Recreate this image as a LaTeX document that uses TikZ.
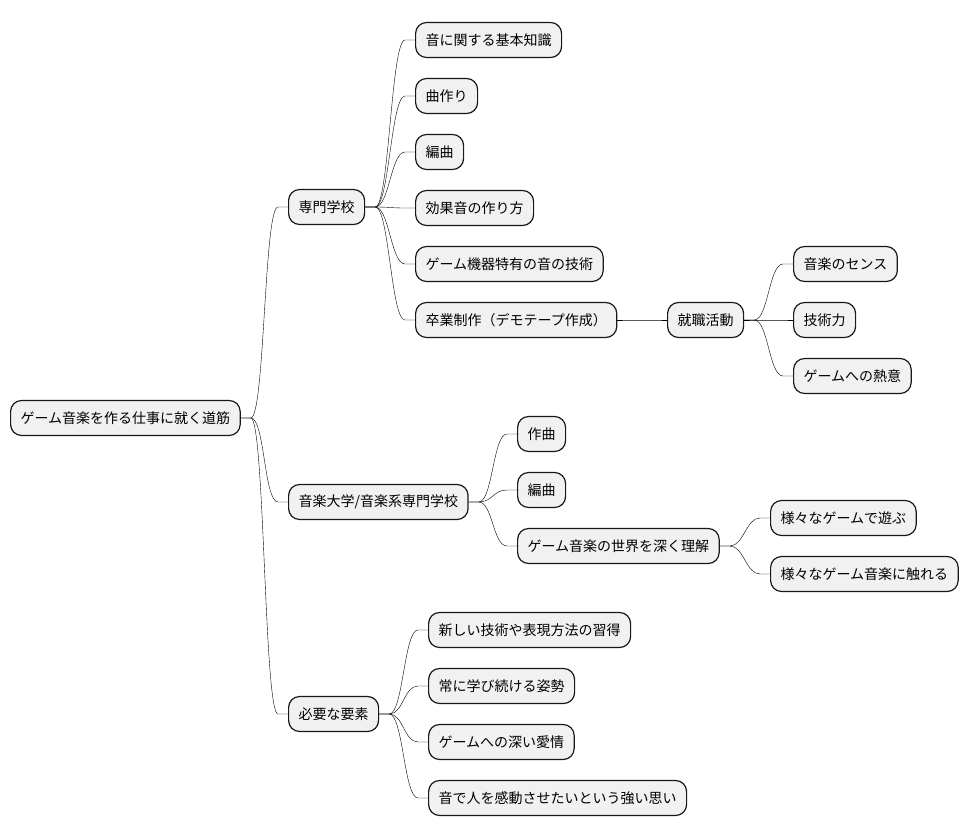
\documentclass[tikz,border=0pt]{standalone}
\usepackage{fontspec}
\setmainfont{Noto Sans CJK JP}
\usepackage{xcolor}
\usepackage{tikz}
\usetikzlibrary{positioning}
\definecolor{boxfill}{HTML}{F1F1F1}
\definecolor{boxline}{HTML}{181818}

\begin{document}
\begin{tikzpicture}[x=1pt, y=-1pt, font=\fontsize{14}{17}\selectfont,
  topic/.style={draw=boxline, fill=boxfill, line width=1.2pt, rounded corners=11pt,
    minimum height=35pt, inner xsep=10pt, inner ysep=0pt, anchor=west},
  branch/.style={draw=boxline, line width=1pt,
    to path={-- ++(10,0) .. controls +(14,0) and +(-14,0) .. ([xshift=-10pt]\tikztotarget) -- (\tikztotarget)}}]

\useasboundingbox (0,0) rectangle (969,837);

% ---- root ----------------------------------------------------------------
\node[topic] (root) at (10,418) {ゲーム音楽を作る仕事に就く道筋};

% ---- 専門学校 -------------------------------------------------------------
\node[topic] (senmon) at (288,207) {専門学校};
\node[topic] (kiso)   at (415,40)  {音に関する基本知識};
\node[topic] (kyoku)  at (415,96)  {曲作り};
\node[topic] (henk)   at (415,152) {編曲};
\node[topic] (koka)   at (415,208) {効果音の作り方};
\node[topic] (kiki)   at (415,264) {ゲーム機器特有の音の技術};
\node[topic] (sotsu)  at (415,320) {卒業制作（デモテープ作成）};
\node[topic] (shoku)  at (667,320) {就職活動};
\node[topic] (sense)  at (793,264) {音楽のセンス};
\node[topic] (gijutsu) at (793,320) {技術力};
\node[topic] (netsui) at (793,376) {ゲームへの熱意};

% ---- 音楽大学 -------------------------------------------------------------
\node[topic] (daigaku) at (288,502) {音楽大学/音楽系専門学校};
\node[topic] (sakkyoku) at (517,434) {作曲};
\node[topic] (henk2)  at (517,490) {編曲};
\node[topic] (rikai)  at (517,546) {ゲーム音楽の世界を深く理解};
\node[topic] (asobu)  at (770,518) {様々なゲームで遊ぶ};
\node[topic] (fureru) at (770,574) {様々なゲーム音楽に触れる};

% ---- 必要な要素 -----------------------------------------------------------
\node[topic] (yoso)   at (288,714) {必要な要素};
\node[topic] (shutoku) at (428,630) {新しい技術や表現方法の習得};
\node[topic] (shisei) at (428,686) {常に学び続ける姿勢};
\node[topic] (aijo)   at (428,742) {ゲームへの深い愛情};
\node[topic] (omoi)   at (428,798) {音で人を感動させたいという強い思い};

% ---- connectors -----------------------------------------------------------
\foreach \a/\b in {root/senmon, root/daigaku, root/yoso,
  senmon/kiso, senmon/kyoku, senmon/henk, senmon/koka, senmon/kiki, senmon/sotsu,
  sotsu/shoku, shoku/sense, shoku/gijutsu, shoku/netsui,
  daigaku/sakkyoku, daigaku/henk2, daigaku/rikai, rikai/asobu, rikai/fureru,
  yoso/shutoku, yoso/shisei, yoso/aijo, yoso/omoi}
  \draw (\a.east) to[branch] (\b.west);
\end{tikzpicture}
\end{document}
